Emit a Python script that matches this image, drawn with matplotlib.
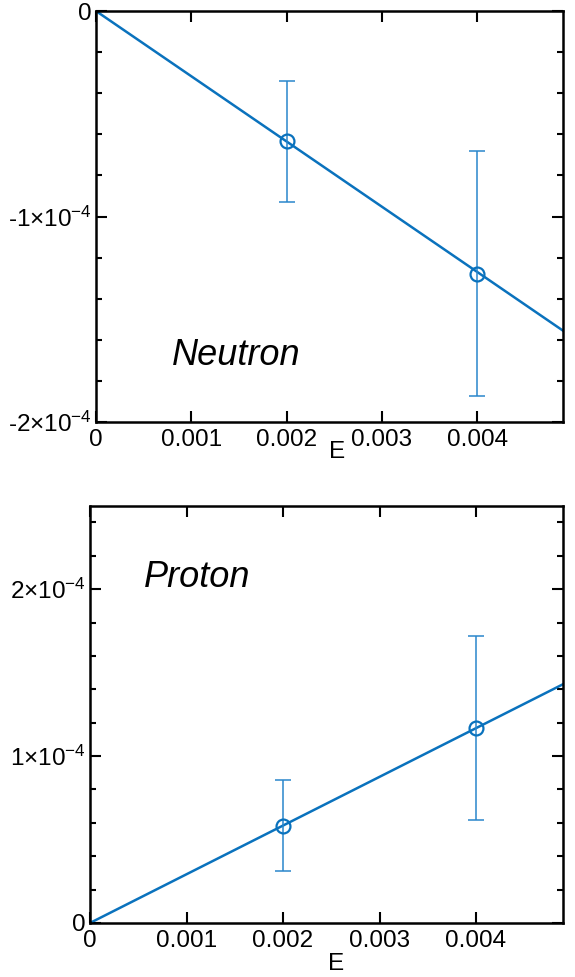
import matplotlib
matplotlib.use("Agg")
import matplotlib.pyplot as plt
from matplotlib.ticker import MultipleLocator, FuncFormatter

# --- data ---
E_pts = [0.002, 0.004]

neutron_y = [-6.33e-5, -1.278e-4]
neutron_err = [2.95e-5, 5.96e-5]
neutron_fit_x = [0.0, 0.0049]
neutron_fit_y = [0.0, -1.555e-4]

proton_y = [5.83e-5, 1.168e-4]
proton_err = [2.74e-5, 5.5e-5]
proton_fit_x = [0.0, 0.0049]
proton_fit_y = [0.0, 1.43e-4]

XTICKS = [0, 0.001, 0.002, 0.003, 0.004]
XTICK_LABELS = ["0", "0.001", "0.002", "0.003", "0.004"]

BLUE = "#0a72bd"
ERR_BLUE = "#2a86cc"
FS = 17.5

plt.rcParams["font.family"] = ["Liberation Sans", "DejaVu Sans"]
plt.rcParams["mathtext.fontset"] = "custom"
plt.rcParams["mathtext.rm"] = "Liberation Sans"
plt.rcParams["mathtext.it"] = "Liberation Sans:italic"


def yfmt(v, pos):
    m = int(round(v / 1e-4))
    if abs(v) < 1e-9:
        return "0"
    sign = "-" if m < 0 else ""
    return sign + r"$%d{\times}10^{-4}$" % abs(m)


def style_axes(ax, ylim, label_xy):
    ax.set_xlim(0, 0.0049)
    ax.set_ylim(*ylim)
    ax.set_xticks(XTICKS)
    ax.set_xticklabels(XTICK_LABELS)
    ax.yaxis.set_major_locator(MultipleLocator(1e-4))
    ax.yaxis.set_minor_locator(MultipleLocator(2e-5))
    ax.yaxis.set_major_formatter(FuncFormatter(yfmt))
    ax.tick_params(which="both", direction="in", top=True, right=True,
                   width=1.5, labelsize=FS)
    ax.tick_params(which="major", length=8, pad=3)
    ax.tick_params(axis="x", which="major", pad=5)
    ax.tick_params(which="minor", length=4.5)
    for s in ax.spines.values():
        s.set_linewidth(1.8)
    ax.set_xlabel("E", fontsize=FS)
    ax.xaxis.set_label_coords(*label_xy)


def panel(ax, y, err, fx, fy, ylim, label, lx, ly, label_xy):
    ax.plot(fx, fy, color=BLUE, lw=1.8)
    ax.errorbar(E_pts, y, yerr=err, fmt="none", ecolor=ERR_BLUE,
                elinewidth=1.1, capsize=6, capthick=1.1)
    ax.plot(E_pts, y, "o", mfc="none", mec=BLUE, mew=1.6, ms=10)
    style_axes(ax, ylim, label_xy)
    ax.text(lx, ly, label, transform=ax.transAxes, fontsize=26,
            style="italic")


fig = plt.figure(figsize=(5.75, 9.77), dpi=100)
ax1 = fig.add_axes([0.167, 0.568, 0.812, 0.4207])
ax2 = fig.add_axes([0.1565, 0.0553, 0.8225, 0.4271])

panel(ax1, neutron_y, neutron_err, neutron_fit_x, neutron_fit_y,
      (-2e-4, 0), "Neutron", 0.163, 0.14, (0.517, -0.045))
panel(ax2, proton_y, proton_err, proton_fit_x, proton_fit_y,
      (0, 2.5e-4), "Proton", 0.113, 0.805, (0.52, -0.072))

fig.savefig("out.png", dpi=100)
